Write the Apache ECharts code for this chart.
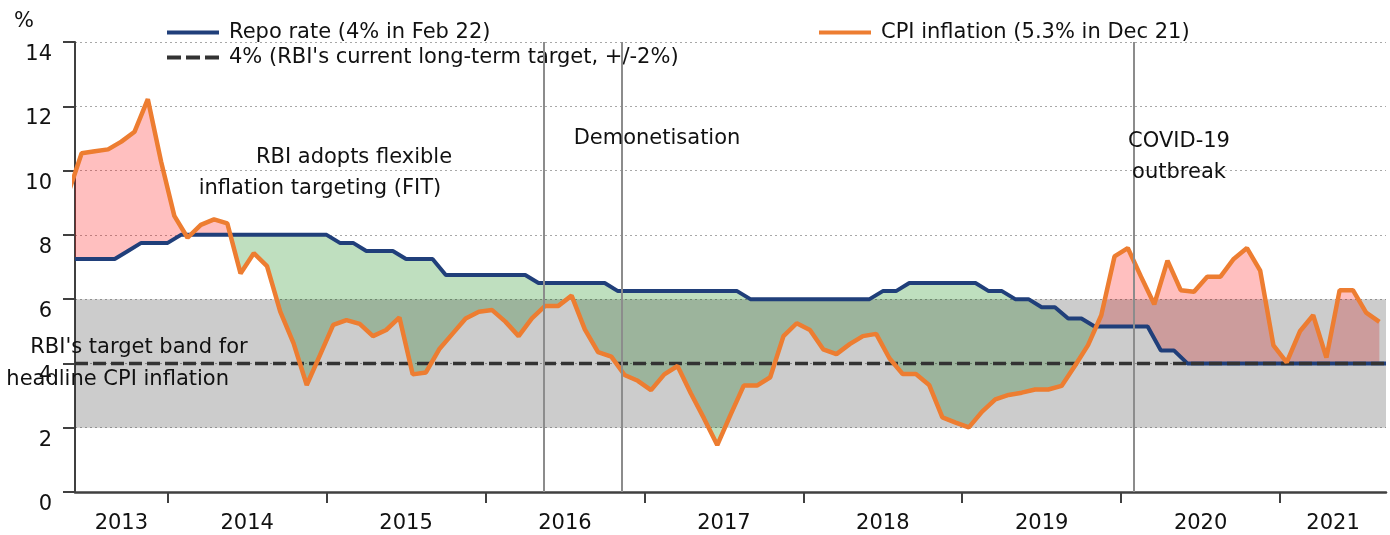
<!DOCTYPE html>
<html>
<head>
<meta charset="utf-8">
<script src="https://cdn.jsdelivr.net/npm/echarts@6/dist/echarts.min.js"></script>
<style>
  html, body { margin: 0; padding: 0; background: #fff; }
  #main { width: 1390px; height: 535px; }
</style>
</head>
<body>
<div id="main"></div>
<script>
// months are counted from Jan 2013 (= 0); first value is May 2013
var startMonth = 4;

// CPI inflation, % y/y, monthly May 2013 - Aug 2021 (plotted mid-month)
var cpi = [9.3,
  10.54, 10.6, 10.66, 10.9, 11.21, 12.22, 10.28, 8.59, 7.91, 8.31,
  8.48, 8.36, 6.8, 7.43, 7.03, 5.61, 4.63, 3.33, 4.26, 5.2,
  5.35, 5.23, 4.85, 5.04, 5.43, 3.66, 3.72, 4.44, 4.92, 5.4,
  5.61, 5.66, 5.3, 4.85, 5.4, 5.79, 5.79, 6.11, 5.06, 4.35,
  4.21, 3.64, 3.46, 3.17, 3.66, 3.92, 3.07, 2.29, 1.46, 2.4,
  3.31, 3.31, 3.57, 4.85, 5.25, 5.04, 4.44, 4.29, 4.6, 4.85,
  4.92, 4.16, 3.67, 3.67, 3.33, 2.32, 2.16, 2.01, 2.5, 2.88,
  3.02, 3.09, 3.19, 3.19, 3.3, 3.92, 4.57, 5.5, 7.33, 7.59,
  6.7, 5.84, 7.2, 6.28, 6.23, 6.7, 6.7, 7.25, 7.59, 6.89,
  4.56, 4.03, 5.0, 5.5, 4.18, 6.28, 6.28, 5.58, 5.29];

// repo rate, %, month-end values May 2013 - Aug 2021
var repo = [7.25, 7.25, 7.25, 7.25, 7.5, 7.75, 7.75, 7.75,
  8, 8, 8, 8, 8, 8, 8, 8, 8, 8, 8, 8,
  7.75, 7.75, 7.5, 7.5, 7.5, 7.25, 7.25, 7.25, 6.75, 6.75, 6.75, 6.75,
  6.75, 6.75, 6.75, 6.5, 6.5, 6.5, 6.5, 6.5, 6.5, 6.25, 6.25, 6.25,
  6.25, 6.25, 6.25, 6.25, 6.25, 6.25, 6.25, 6, 6, 6, 6, 6,
  6, 6, 6, 6, 6, 6.25, 6.25, 6.5, 6.5, 6.5, 6.5, 6.5,
  6.5, 6.25, 6.25, 6, 6, 5.75, 5.75, 5.4, 5.4, 5.15, 5.15, 5.15,
  5.15, 5.15, 4.4, 4.4, 4, 4, 4, 4, 4, 4, 4, 4,
  4, 4, 4, 4, 4, 4, 4, 4];

var target = 4;
var bandLow = 2, bandHigh = 6;
var xMin = 5, xMax = 104;          // Jun 2013 .. end of Aug 2021

var yearTicks = [12, 24, 36, 48, 60, 72, 84, 96];
var yearLabels = ['2013', '2014', '2015', '2016', '2017', '2018', '2019', '2020', '2021'];
var yearLabelAt = [8.5, 18, 30, 42, 54, 66, 78, 90, 100];

var eventAt = [40.4, 46.25, 84.94];   // FIT, demonetisation, COVID-19

var names = ['Repo rate (4% in Feb 22)', "4% (RBI's current long-term target, +/-2%)", 'CPI inflation (5.3% in Dec 21)'];

var FONT = 'DejaVu Sans';
var AXIS = '#404040';
var NAVY = '#203f7a', ORANGE = '#ed7d31', DASH = '#333333';

var cpiData = cpi.map(function (v, i) { return [startMonth + i + 0.5, v]; });
var repoData = repo.map(function (v, i) { return [startMonth + i + 1, v]; });

function valueAt(pts, x) {
  for (var i = 0; i < pts.length - 1; i++) {
    var a = pts[i], b = pts[i + 1];
    if (x >= a[0] && x <= b[0]) return a[1] + (b[1] - a[1]) * (x - a[0]) / (b[0] - a[0]);
  }
  return pts[pts.length - 1][1];
}

// runs where cpi is above (+1) or below (-1) the repo rate
function gapRuns() {
  var lo = Math.max(cpiData[0][0], repoData[0][0]);
  var hi = Math.min(cpiData[cpiData.length - 1][0], repoData[repoData.length - 1][0]);
  var xs = [lo, hi];
  cpiData.concat(repoData).forEach(function (p) { if (p[0] > lo && p[0] < hi) xs.push(p[0]); });
  xs.sort(function (a, b) { return a - b; });
  var gap = function (x) { return valueAt(cpiData, x) - valueAt(repoData, x); };
  var runs = [], cur = null;
  for (var i = 0; i < xs.length - 1; i++) {
    var x0 = xs[i], x1 = xs[i + 1];
    if (x1 - x0 < 1e-9) continue;
    var d0 = gap(x0), d1 = gap(x1);
    var pieces = [[x0, x1]];
    if (d0 * d1 < 0) {
      var xc = x0 + (x1 - x0) * d0 / (d0 - d1);
      pieces = [[x0, xc], [xc, x1]];
    }
    pieces.forEach(function (seg) {
      var s = gap((seg[0] + seg[1]) / 2);
      var sign = s > 1e-9 ? 1 : (s < -1e-9 ? -1 : 0);
      if (!cur || cur.sign !== sign) { cur = { sign: sign, xs: [seg[0]] }; runs.push(cur); }
      cur.xs.push(seg[1]);
    });
  }
  return runs.filter(function (r) { return r.sign !== 0; });
}
var runs = gapRuns();

function renderGaps(params, api) {
  var children = runs.map(function (run) {
    var pts = run.xs.map(function (x) { return api.coord([x, valueAt(cpiData, x)]); });
    for (var i = run.xs.length - 1; i >= 0; i--) {
      pts.push(api.coord([run.xs[i], valueAt(repoData, run.xs[i])]));
    }
    return {
      type: 'polygon',
      shape: { points: pts },
      style: { fill: run.sign > 0 ? 'rgba(255,0,0,0.25)' : 'rgba(0,128,0,0.25)' }
    };
  });
  return { type: 'group', children: children };
}

function renderBand(params, api) {
  var p0 = api.coord([xMin, bandHigh]);
  var p1 = api.coord([xMax, bandLow]);
  return {
    type: 'rect',
    shape: { x: p0[0], y: p0[1], width: p1[0] - p0[0], height: p1[1] - p0[1] },
    style: { fill: 'rgba(42,42,42,0.24)' }
  };
}

var chart = echarts.init(document.getElementById('main'));

var txt = function (text, x, y, align) {
  return {
    type: 'text', x: x, y: y, z: 100,
    style: { text: text, fontFamily: FONT, fontSize: 21, fill: '#111', align: align || 'center', verticalAlign: 'middle' }
  };
};

var legendText = { fontFamily: FONT, fontSize: 21, color: '#111', lineHeight: 20, padding: [0, 0, 0, 5] };
var dashIcon = 'path://M0,0h14v4h-14z M19,0h14v4h-14z M38,0h14v4h-14z';

chart.setOption({
  animation: false,
  grid: { left: 75, right: 4, top: 42, bottom: 43, outerBoundsMode: 'none' },
  legend: [{
    data: [{ name: names[0], icon: 'rect' }, { name: names[1], icon: dashIcon }],
    orient: 'vertical', left: 167, top: 22, padding: 0,
    itemWidth: 52, itemHeight: 4, itemGap: 4,
    selectedMode: false,
    textStyle: legendText
  }, {
    data: [{ name: names[2], icon: 'rect' }],
    orient: 'vertical', left: 819, top: 22, padding: 0,
    itemWidth: 52, itemHeight: 4,
    selectedMode: false,
    textStyle: legendText
  }],
  xAxis: {
    type: 'value', min: xMin, max: xMax,
    axisLine: { show: true, lineStyle: { color: AXIS, width: 2.5 } },
    axisTick: { show: true, customValues: yearTicks, length: 11, lineStyle: { color: AXIS, width: 2 } },
    axisLabel: {
      customValues: yearLabelAt, margin: 21,
      fontFamily: FONT, fontSize: 21, color: '#111',
      formatter: function (v) {
        for (var i = 0; i < yearLabelAt.length; i++) if (Math.abs(yearLabelAt[i] - v) < 1e-6) return yearLabels[i];
        return '';
      }
    },
    splitLine: { show: false }
  },
  yAxis: {
    type: 'value', min: 0, max: 14, interval: 2,
    axisLine: { show: true, lineStyle: { color: AXIS, width: 2 } },
    axisTick: { show: true, length: 12, lineStyle: { color: AXIS, width: 2 } },
    axisLabel: { margin: 23, fontFamily: FONT, fontSize: 21, color: '#111', verticalAlign: 'top', padding: [2, 0, 0, 0] },
    splitLine: { show: true, lineStyle: { color: '#a8a8a8', width: 1, type: [2, 3] } }
  },
  graphic: [
    txt('%', 24, 22),
    txt('RBI adopts flexible', 354, 158),
    txt('inflation targeting (FIT)', 320, 189),
    txt('Demonetisation', 657, 139),
    txt('COVID-19', 1179, 142),
    txt('outbreak', 1179, 173),
    txt("RBI's target band for", 139, 348),
    txt('headline CPI inflation', 229, 380, 'right')
  ],
  series: [{
    type: 'custom', name: 'gap', z: 1, silent: true,
    data: [[xMin, 0]],
    renderItem: renderGaps
  }, {
    type: 'custom', name: 'band', z: 1.5, silent: true,
    data: [[xMin, bandLow]],
    renderItem: renderBand
  }, {
    name: names[0], type: 'line', z: 2,
    data: repoData, symbol: 'none',
    lineStyle: { color: NAVY, width: 4 },
    itemStyle: { color: NAVY },
    markLine: {
      silent: true, symbol: ['none', 'none'],
      label: { show: false },
      lineStyle: { color: '#8c8c8c', width: 2, type: 'solid' },
      data: eventAt.map(function (x) { return { xAxis: x }; })
    }
  }, {
    name: names[1], type: 'line', z: 3,
    data: [[xMin, target], [xMax, target]], symbol: 'none',
    lineStyle: { color: DASH, width: 3.5, type: [13, 5] },
    itemStyle: { color: DASH }
  }, {
    name: names[2], type: 'line', z: 4,
    data: cpiData, symbol: 'none',
    lineStyle: { color: ORANGE, width: 4.5 },
    itemStyle: { color: ORANGE }
  }]
});
</script>
</body>
</html>
